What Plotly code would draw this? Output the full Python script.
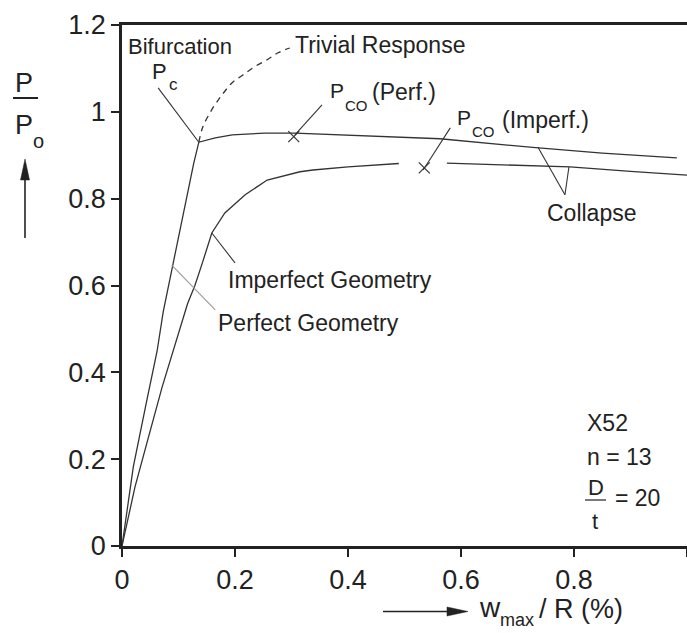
import plotly.graph_objects as go

# ---------------- data ----------------
perfect_x = [0, 0.020, 0.044, 0.062, 0.073, 0.088, 0.103, 0.115, 0.127, 0.136,
             0.165, 0.195, 0.253, 0.306, 0.40, 0.563, 0.727, 0.85, 0.982]
perfect_y = [0, 0.182, 0.336, 0.448, 0.540, 0.636, 0.728, 0.804, 0.882, 0.930,
             0.940, 0.947, 0.951, 0.951, 0.946, 0.938, 0.918, 0.905, 0.894]

imperfect_x = [0, 0.023, 0.044, 0.071, 0.116, 0.129, 0.143, 0.159, 0.182, 0.218, 0.257, 0.315, 0.338,
               0.40, 0.49, None, 0.575, 0.65, 0.793, 0.90, 1.0]
imperfect_y = [0, 0.136, 0.237, 0.366, 0.558, 0.600, 0.655, 0.721, 0.767, 0.809, 0.843, 0.862, 0.866,
               0.873, 0.881, None, 0.882, 0.879, 0.873, 0.863, 0.854]

trivial_x = [0.136, 0.143, 0.159, 0.177, 0.195, 0.214, 0.235, 0.257, 0.276, 0.297]
trivial_y = [0.930, 0.965, 1.005, 1.039, 1.067, 1.085, 1.104, 1.120, 1.136, 1.147]

collapse_pts_x = [0.304, 0.535]
collapse_pts_y = [0.943, 0.871]

# leader lines: (x0, y0, x1, y1)
leaders_dark = [
    (0.064, 1.055, 0.136, 0.930),   # P_c
    (0.354, 1.016, 0.306, 0.947),   # P_co perf
    (0.581, 0.963, 0.533, 0.866),   # P_co imperf
    (0.784, 0.809, 0.736, 0.919),   # collapse -> perfect
    (0.784, 0.809, 0.791, 0.873),   # collapse -> imperfect
    (0.159, 0.721, 0.200, 0.652),   # imperfect geometry
]
leaders_light = [
    (0.088, 0.647, 0.165, 0.544),   # perfect geometry
]

x_ticks = [0, 0.2, 0.4, 0.6, 0.8, 1.0]
y_ticks = [0, 0.2, 0.4, 0.6, 0.8, 1.0, 1.2]

# ---------------- layout geometry ----------------
W, H = 687, 633
L, R, T, B = 122, 0, 25, 87
FONT = "Liberation Sans, Arial, Helvetica, sans-serif"
INK = "#222222"
LINE = "#333333"


def px(x):
    return (x - L) / (W - L - R)


def py(y):
    return (H - B - y) / (H - T - B)


fig = go.Figure()

fig.add_trace(go.Scatter(x=perfect_x, y=perfect_y, mode="lines",
                         line=dict(color=LINE, width=1.3), hoverinfo="skip"))
fig.add_trace(go.Scatter(x=imperfect_x, y=imperfect_y, mode="lines", connectgaps=False,
                         line=dict(color=LINE, width=1.3), hoverinfo="skip"))
fig.add_trace(go.Scatter(x=trivial_x, y=trivial_y, mode="lines", line_shape="spline",
                         line=dict(color=LINE, width=1.3, dash="6px,5px"), hoverinfo="skip"))
fig.add_trace(go.Scatter(x=collapse_pts_x, y=collapse_pts_y, mode="markers",
                         marker=dict(symbol="x-thin", size=11, line=dict(color=LINE, width=1.2)),
                         hoverinfo="skip"))

shapes = []
for (x0, y0, x1, y1) in leaders_dark:
    shapes.append(dict(type="line", xref="x", yref="y", x0=x0, y0=y0, x1=x1, y1=y1,
                       line=dict(color=LINE, width=1.1)))
for (x0, y0, x1, y1) in leaders_light:
    shapes.append(dict(type="line", xref="x", yref="y", x0=x0, y0=y0, x1=x1, y1=y1,
                       line=dict(color="#999999", width=1.1)))

# y title fraction bar and arrow
shapes.append(dict(type="line", xref="paper", yref="paper", x0=px(13), x1=px(38), y0=py(98), y1=py(98),
                   line=dict(color=INK, width=2)))
shapes.append(dict(type="line", xref="paper", yref="paper", x0=px(25), x1=px(25), y0=py(238), y1=py(176),
                   line=dict(color=INK, width=1.6)))
shapes.append(dict(type="path", xref="paper", yref="paper",
                   path=f"M {px(25)},{py(159)} L {px(20.5)},{py(180)} L {px(29.5)},{py(180)} Z",
                   fillcolor=INK, line=dict(color=INK, width=0.5)))
# x title arrow
shapes.append(dict(type="line", xref="paper", yref="paper", x0=px(383), x1=px(452), y0=py(611.5), y1=py(611.5),
                   line=dict(color=INK, width=1.6)))
shapes.append(dict(type="path", xref="paper", yref="paper",
                   path=f"M {px(468)},{py(611.5)} L {px(447)},{py(607)} L {px(447)},{py(616)} Z",
                   fillcolor=INK, line=dict(color=INK, width=0.5)))
# D/t fraction bar
shapes.append(dict(type="line", xref="paper", yref="paper", x0=px(585), x1=px(606), y0=py(500), y1=py(500),
                   line=dict(color=INK, width=1.2)))

annotations = []


def txt(text, x, y, size, anchor="left"):
    annotations.append(dict(text=text, xref="paper", yref="paper", x=px(x), y=py(y),
                            xanchor=anchor, yanchor="middle", showarrow=False,
                            font=dict(family=FONT, size=size, color=INK)))


txt("Bifurcation", 126, 47, 22)
txt("P", 150, 71, 22)
txt("c", 167, 84, 17)
txt("Trivial Response", 293, 45, 23)
txt("P", 328, 91, 21)
txt("CO", 343, 105, 15)
txt("(Perf.)", 370, 92, 23)
txt("P", 455, 118, 21)
txt("CO", 470, 131, 15)
txt("(Imperf.)", 500, 120, 23)
txt("Collapse", 545, 213, 23)
txt("Imperfect Geometry", 226, 280, 23)
txt("Perfect Geometry", 216, 323, 23)
txt("X52", 585, 423, 23)
txt("n = 13", 585, 457, 23)
txt("D", 586, 487, 22)
txt("t", 590, 521, 22)
txt("= 20", 613, 498, 23)
# y title
txt("P", 24, 83, 27, anchor="center")
txt("P", 24, 125, 27, anchor="center")
txt("o", 38, 141, 20, anchor="center")
# x title
txt("w", 477, 607, 28)
txt("max", 498, 620, 18)
txt("/ R (%)", 537, 609, 27)

fig.update_layout(
    width=W, height=H,
    margin=dict(l=L, r=R, t=T, b=B, pad=0),
    paper_bgcolor="white", plot_bgcolor="white",
    showlegend=False,
    shapes=shapes, annotations=annotations,
    font=dict(family=FONT, color=INK),
    xaxis=dict(range=[0, 1], tickvals=x_ticks, ticktext=[f"{v:g}" for v in x_ticks],
               showgrid=False, zeroline=False, showline=True, linecolor=INK, linewidth=2.5,
               mirror=True, ticks="outside", ticklen=8, tickwidth=2, tickcolor=INK,
               tickfont=dict(size=27, family=FONT, color=INK), fixedrange=True),
    yaxis=dict(range=[0, 1.2], tickvals=y_ticks, ticktext=[f"{v:g}" for v in y_ticks],
               showgrid=False, zeroline=False, showline=True, linecolor=INK, linewidth=2.5,
               ticks="outside", ticklen=8, tickwidth=2, tickcolor=INK,
               tickfont=dict(size=27, family=FONT, color=INK), fixedrange=True),
)

fig.write_html("out.html", config={"displayModeBar": False})
